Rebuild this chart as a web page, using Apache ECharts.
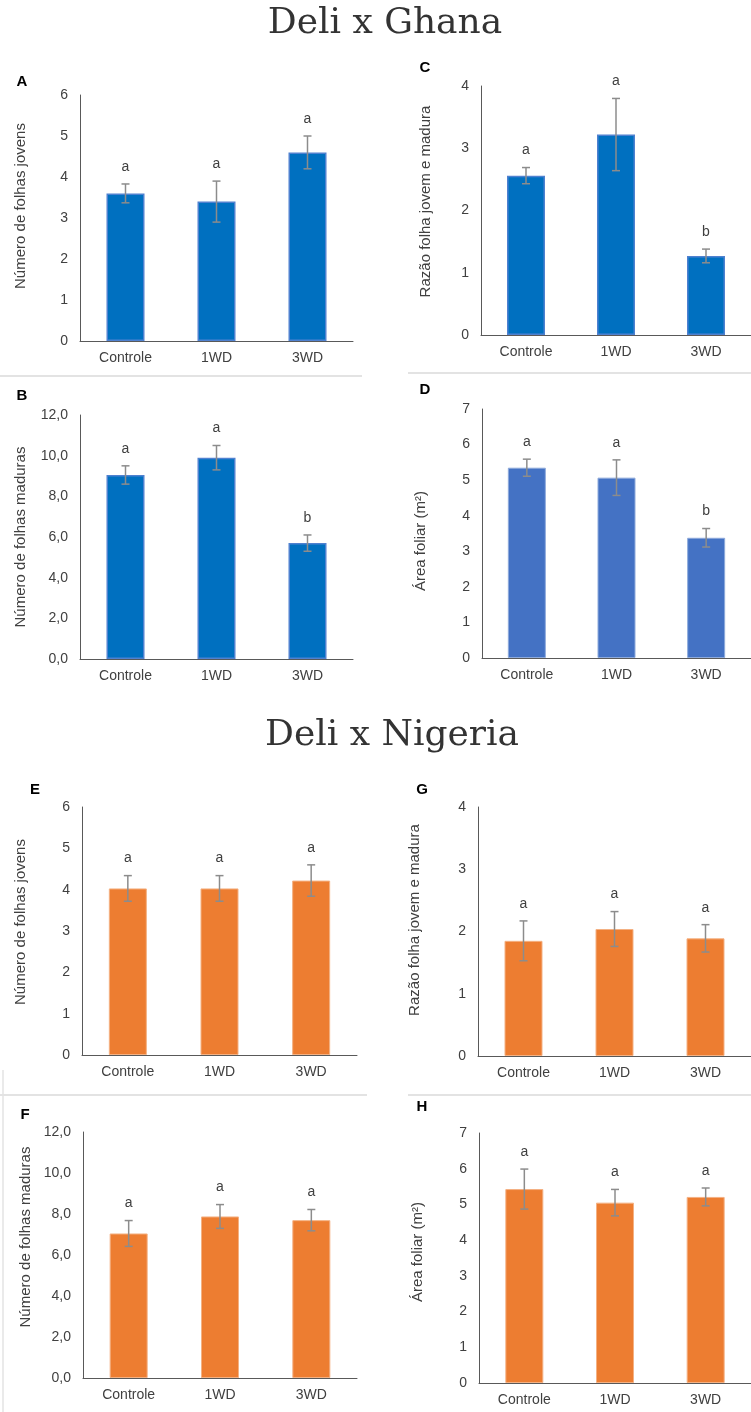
<!DOCTYPE html>
<html>
<head>
<meta charset="utf-8">
<script src="https://cdn.jsdelivr.net/npm/echarts@6/dist/echarts.min.js"></script>
<style>
  html, body { margin: 0; padding: 0; background: #fff; }
  #main { width: 751px; height: 1412px; }
</style>
</head>
<body>
<div id="main"></div>
<script>
// categorias e valores (média e erro padrão)
var categories = ['Controle', '1WD', '3WD'];

var meanA = [3.6, 3.4, 4.6];    var sdA = [0.23, 0.5, 0.4];   var letA = ['a', 'a', 'a'];
var meanB = [9.05, 9.9, 5.7];   var sdB = [0.45, 0.6, 0.4];   var letB = ['a', 'a', 'b'];
var meanC = [2.56, 3.22, 1.27]; var sdC = [0.13, 0.58, 0.11]; var letC = ['a', 'a', 'b'];
var meanD = [5.35, 5.07, 3.38]; var sdD = [0.24, 0.5, 0.26];  var letD = ['a', 'a', 'b'];
var meanE = [4.03, 4.03, 4.22]; var sdE = [0.31, 0.31, 0.38]; var letE = ['a', 'a', 'a'];
var meanF = [7.05, 7.88, 7.7];  var sdF = [0.63, 0.58, 0.52]; var letF = ['a', 'a', 'a'];
var meanG = [1.85, 2.04, 1.89]; var sdG = [0.32, 0.28, 0.22]; var letG = ['a', 'a', 'a'];
var meanH = [5.43, 5.05, 5.21]; var sdH = [0.56, 0.37, 0.25]; var letH = ['a', 'a', 'a'];

var titleGhana = 'Deli x Ghana';
var titleNigeria = 'Deli x Nigeria';
var nameJovens = 'Número de folhas jovens';
var nameMaduras = 'Número de folhas maduras';
var nameRazao = 'Razão folha jovem e madura';
var nameArea = 'Área foliar (m²)';

var FONT = 'Liberation Sans, Arial, sans-serif';

// painéis: posição, eixo e cores
var panels = [
  { tag: 'A', tx: 22,  ty: 82,   left: 80,  top: 95,   w: 273, h: 246, max: 6,  step: 1, dec: false, name: nameJovens,  gap: 52, shift: 24,  mean: meanA, sd: sdA, lets: letA, fill: '#0070C0', edge: '#4f81d0', ew: 1.5 },
  { tag: 'B', tx: 22,  ty: 396,  left: 80,  top: 415,  w: 273, h: 244, max: 12, step: 2, dec: true,  name: nameMaduras, gap: 52, shift: 0,   mean: meanB, sd: sdB, lets: letB, fill: '#0070C0', edge: '#4f81d0', ew: 1.5 },
  { tag: 'C', tx: 425, ty: 68,   left: 481, top: 86,   w: 276, h: 249, max: 4,  step: 1, dec: false, name: nameRazao,   gap: 48, shift: 18,  mean: meanC, sd: sdC, lets: letC, fill: '#0070C0', edge: '#4f81d0', ew: 1.5 },
  { tag: 'D', tx: 425, ty: 390,  left: 482, top: 409,  w: 276, h: 249, max: 7,  step: 1, dec: false, name: nameArea,    gap: 54, shift: -15, mean: meanD, sd: sdD, lets: letD, fill: '#4472C4', edge: '#8eaadb', ew: 1 },
  { tag: 'E', tx: 35,  ty: 790,  left: 82,  top: 807,  w: 275, h: 248, max: 6,  step: 1, dec: false, name: nameJovens,  gap: 54, shift: 18,  mean: meanE, sd: sdE, lets: letE, fill: '#ED7D31', edge: '#f4b183', ew: 1 },
  { tag: 'F', tx: 25,  ty: 1115, left: 83,  top: 1132, w: 274, h: 246, max: 12, step: 2, dec: true,  name: nameMaduras, gap: 50, shift: 36,  mean: meanF, sd: sdF, lets: letF, fill: '#ED7D31', edge: '#f4b183', ew: 1 },
  { tag: 'G', tx: 422, ty: 790,  left: 478, top: 807,  w: 278, h: 249, max: 4,  step: 1, dec: false, name: nameRazao,   gap: 56, shift: 23,  mean: meanG, sd: sdG, lets: letG, fill: '#ED7D31', edge: '#f4b183', ew: 1 },
  { tag: 'H', tx: 422, ty: 1107, left: 479, top: 1133, w: 278, h: 250, max: 7,  step: 1, dec: false, name: nameArea,    gap: 54, shift: 12,  mean: meanH, sd: sdH, lets: letH, fill: '#ED7D31', edge: '#f4b183', ew: 1 }
];

var grids = [], xAxes = [], yAxes = [], series = [];

panels.forEach(function (p, i) {
  grids.push({ left: p.left, top: p.top, width: p.w, height: p.h, containLabel: false });
  xAxes.push({
    type: 'category', gridIndex: i, data: categories,
    axisLine: { lineStyle: { color: '#595959', width: 1 } },
    axisTick: { show: false },
    axisLabel: { color: '#404040', fontSize: 14, fontFamily: FONT, margin: 10 }
  });
  yAxes.push({
    type: 'value', gridIndex: i, min: 0, max: p.max, interval: p.step,
    name: p.name, nameLocation: 'middle', nameGap: p.gap, nameRotate: 90,
    nameTextStyle: {
      color: '#404040', fontSize: 15, fontFamily: FONT,
      padding: p.shift >= 0 ? [0, 0, 0, p.shift] : [0, -p.shift, 0, 0]
    },
    axisLine: { show: true, lineStyle: { color: '#595959', width: 1 } },
    axisTick: { show: false },
    splitLine: { show: false },
    axisLabel: {
      color: '#404040', fontSize: 14, fontFamily: FONT, margin: 12,
      formatter: function (v) { return p.dec ? v.toFixed(1).replace('.', ',') : String(v); }
    }
  });
  series.push({
    type: 'bar', xAxisIndex: i, yAxisIndex: i, barWidth: 38,
    data: p.mean,
    itemStyle: { color: p.fill, borderColor: p.edge, borderWidth: p.ew },
    silent: true
  });
  // barras de erro + letras de significância
  series.push({
    type: 'custom', xAxisIndex: i, yAxisIndex: i, z: 5,
    data: p.mean.map(function (m, k) { return [k, m, p.sd[k]]; }),
    renderItem: function (params, api) {
      var x = api.value(0), m = api.value(1), s = api.value(2);
      var hi = api.coord([x, m + s]);
      var lo = api.coord([x, m - s]);
      var cap = 4;
      var st = { stroke: '#8c8c8c', lineWidth: 1.5 };
      return {
        type: 'group',
        children: [
          { type: 'line', shape: { x1: hi[0], y1: hi[1], x2: lo[0], y2: lo[1] }, style: st },
          { type: 'line', shape: { x1: hi[0] - cap, y1: hi[1], x2: hi[0] + cap, y2: hi[1] }, style: st },
          { type: 'line', shape: { x1: lo[0] - cap, y1: lo[1], x2: lo[0] + cap, y2: lo[1] }, style: st },
          { type: 'text', style: {
              text: p.lets[params.dataIndex], x: hi[0], y: hi[1] - 17,
              align: 'center', verticalAlign: 'middle',
              font: '14px ' + FONT, fill: '#404040' } }
        ]
      };
    }
  });
});

var graphics = [
  { type: 'text', style: { text: titleGhana, x: 385, y: 24, align: 'center', verticalAlign: 'middle', font: '36px "DejaVu Serif", serif', fill: '#333' } },
  { type: 'text', style: { text: titleNigeria, x: 392, y: 736, align: 'center', verticalAlign: 'middle', font: '36px "DejaVu Serif", serif', fill: '#333' } },
  { type: 'line', shape: { x1: 0, y1: 376, x2: 362, y2: 376 }, style: { stroke: '#e3e3e3', lineWidth: 2 } },
  { type: 'line', shape: { x1: 408, y1: 373, x2: 751, y2: 373 }, style: { stroke: '#e3e3e3', lineWidth: 2 } },
  { type: 'line', shape: { x1: 0, y1: 1095, x2: 367, y2: 1095 }, style: { stroke: '#e3e3e3', lineWidth: 2 } },
  { type: 'line', shape: { x1: 408, y1: 1095, x2: 751, y2: 1095 }, style: { stroke: '#e3e3e3', lineWidth: 2 } },
  { type: 'line', shape: { x1: 3, y1: 1070, x2: 3, y2: 1412 }, style: { stroke: '#e3e3e3', lineWidth: 1.5 } }
];
panels.forEach(function (p) {
  graphics.push({ type: 'text', style: { text: p.tag, x: p.tx, y: p.ty, align: 'center', verticalAlign: 'middle', font: 'bold 15px ' + FONT, fill: '#000' } });
});

var chart = echarts.init(document.getElementById('main'));
chart.setOption({
  animation: false,
  backgroundColor: '#fff',
  grid: grids,
  xAxis: xAxes,
  yAxis: yAxes,
  series: series,
  graphic: graphics
});
</script>
</body>
</html>
